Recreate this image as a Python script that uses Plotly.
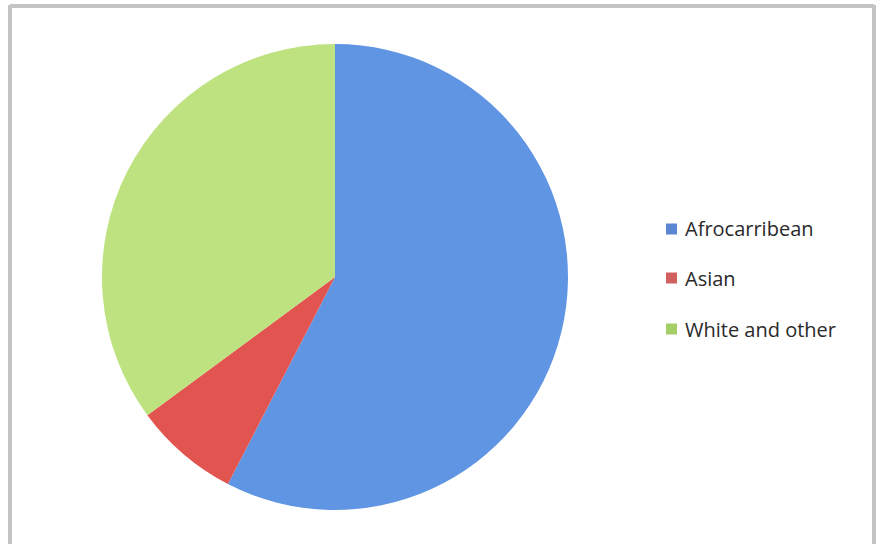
import plotly.graph_objects as go

labels = ["Afrocarribean", "Asian", "White and other"]
values = [57.6, 7.3, 35.1]
colors = ["#5f95e2", "#e2544f", "#bde27f"]
legend_colors = ["#5b86d1", "#d2605e", "#a3cf66"]

W, H = 881, 544

fig = go.Figure()
fig.add_trace(go.Pie(
    labels=labels, values=values, sort=False, direction="clockwise", rotation=0,
    marker=dict(colors=colors, line=dict(width=0)),
    textinfo="none", hoverinfo="label+percent",
    domain=dict(x=[102 / W, 568 / W], y=[1 - 510 / H, 1 - 44 / H]),
    showlegend=False,
))

shapes = []
annotations = []
# frame
shapes.append(dict(type="line", xref="paper", yref="paper", x0=10 / W, x1=10 / W, y0=0, y1=1 - 5 / H,
                   line=dict(color="#c4c4c4", width=4)))
shapes.append(dict(type="line", xref="paper", yref="paper", x0=10 / W, x1=874 / W, y0=1 - 6 / H, y1=1 - 6 / H,
                   line=dict(color="#c4c4c4", width=4)))
shapes.append(dict(type="line", xref="paper", yref="paper", x0=874 / W, x1=874 / W, y0=0, y1=1 - 5 / H,
                   line=dict(color="#c4c4c4", width=4)))

# manual legend
legend_y = [229, 278, 329]
for lab, col, yy in zip(labels, legend_colors, legend_y):
    shapes.append(dict(type="rect", xref="paper", yref="paper",
                       x0=666 / W, x1=677 / W, y0=1 - (yy + 5.5) / H, y1=1 - (yy - 5.5) / H,
                       fillcolor=col, line=dict(width=0)))
    annotations.append(dict(text=lab, xref="paper", yref="paper", x=683 / W, y=1 - yy / H,
                            xanchor="left", yanchor="middle", showarrow=False,
                            font=dict(family="Open Sans", size=20, color="#2a2a2a")))

fig.update_layout(
    width=W, height=H, margin=dict(l=0, r=0, t=0, b=0),
    paper_bgcolor="white", plot_bgcolor="white",
    shapes=shapes, annotations=annotations,
)
fig.write_html("out.html")
